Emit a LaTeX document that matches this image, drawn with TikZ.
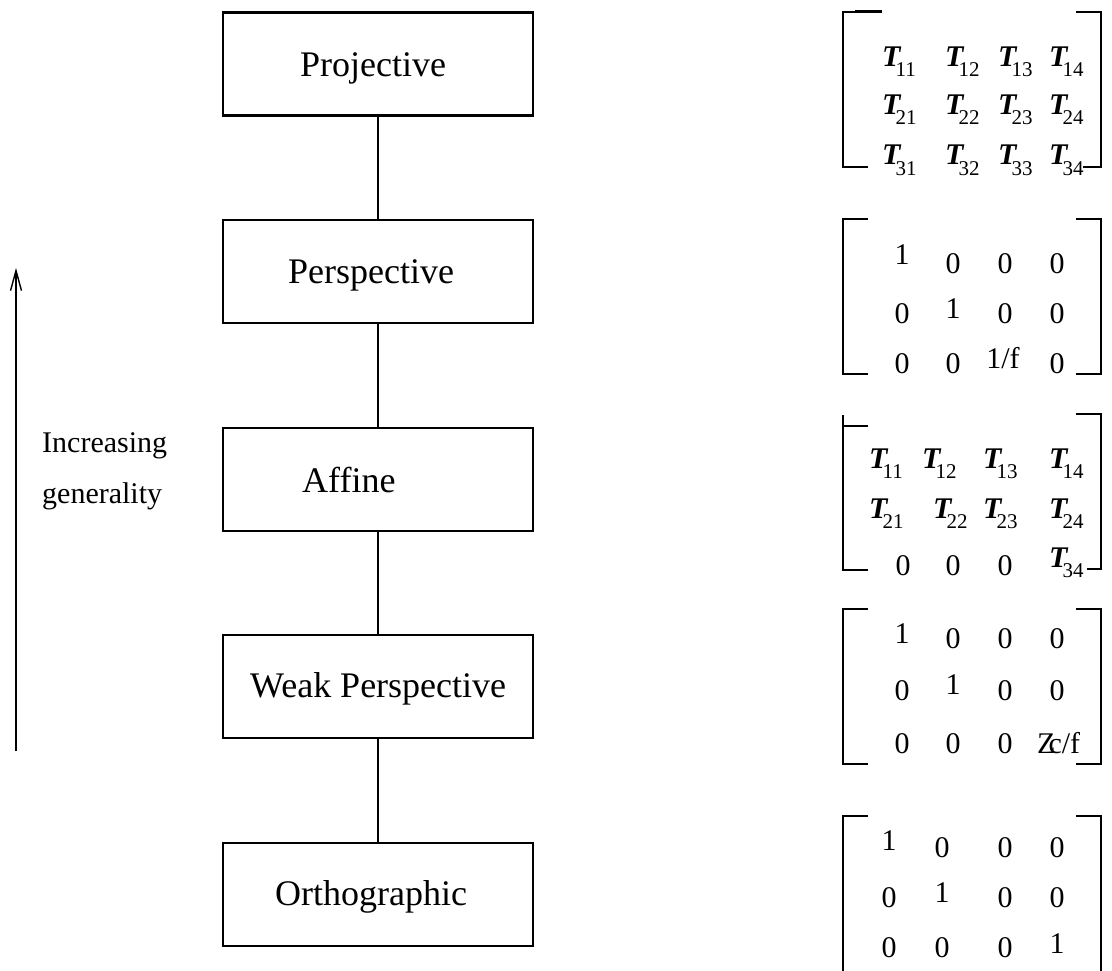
\documentclass[tikz,border=0pt]{standalone}
\usepackage{fontspec}
\setmainfont{Liberation Serif}
\usetikzlibrary{arrows.meta}
\newcommand{\Tm}[1]{{\bfseries\itshape T}\kern-5pt\smash{\raisebox{-10pt}{\fontsize{21}{21}\selectfont #1}}}
\begin{document}
\begin{tikzpicture}[x=1pt,y=-1pt,
  stagebox/.style={draw, line width=2.7pt, minimum width=310pt, minimum height=103pt, inner sep=0pt},
  lbl/.style={anchor=base west, inner sep=0pt, font=\fontsize{36}{40}\selectfont},
  side/.style={anchor=base west, inner sep=0pt, font=\fontsize{30}{34}\selectfont},
  ent/.style={anchor=base, inner sep=0pt, font=\fontsize{30}{34}\selectfont},
  tent/.style={anchor=base west, inner sep=0pt, font=\fontsize{30}{34}\selectfont},
  brk/.style={line width=1.8pt},
  conn/.style={line width=2.3pt}]
\useasboundingbox (0,0) rectangle (1112,971);
% boxes
\node[stagebox] (b1) at (378,64) {};
\node[stagebox] (b2) at (378,271.5) {};
\node[stagebox] (b3) at (378,479.5) {};
\node[stagebox] (b4) at (378,686.5) {};
\node[stagebox] (b5) at (378,894.5) {};
\node[lbl] (t1) at (300,77) {Projective};
\node[lbl] (t2) at (288,283) {Perspective};
\node[lbl] (t3) at (302,492) {Affine};
\node[lbl] (t4) at (250,697) {Weak Perspective};
\node[lbl] (t5) at (275,905) {Orthographic};
\draw[conn] (b1.south) -- (b2.north);
\draw[conn] (b2.south) -- (b3.north);
\draw[conn] (b3.south) -- (b4.north);
\draw[conn] (b4.south) -- (b5.north);
% arrow
\coordinate (ab) at (16,751);
\coordinate (at) at (16,268);
\draw[line width=1.4pt, -{Straight Barb[length=20pt,width=11pt,line width=1.4pt]}] (ab) -- (at);
\node[side] (inc) at (42,452) {Increasing};
\node[side] (gen) at (42,503) {generality};
% matrix 1
\draw[brk] (882,12) -- (843,12) -- (843,167) -- (868,167);
\draw[line width=3pt] (855,12) -- (882,12);
\draw[brk] (1076,12) -- (1101,12) -- (1101,167) -- (1083,167);
\node[tent] (a11) at (882,67) {\Tm{11}};
\node[tent] (a12) at (945,67) {\Tm{12}};
\node[tent] (a13) at (998,67) {\Tm{13}};
\node[tent] (a14) at (1049,67) {\Tm{14}};
\node[tent] (a21) at (882,115) {\Tm{21}};
\node[tent] (a22) at (945,115) {\Tm{22}};
\node[tent] (a23) at (998,115) {\Tm{23}};
\node[tent] (a24) at (1049,115) {\Tm{24}};
\node[tent] (a31) at (882,165) {\Tm{31}};
\node[tent] (a32) at (945,165) {\Tm{32}};
\node[tent] (a33) at (998,165) {\Tm{33}};
\node[tent] (a34) at (1049,165) {\Tm{34}};
% matrix 2
\draw[brk] (868,219) -- (843,219) -- (843,374) -- (868,374);
\draw[brk] (1076,219) -- (1101,219) -- (1101,374) -- (1076,374);
\node[ent] (p11) at (902,265) {1};
\node[ent] (p12) at (953,273) {0};
\node[ent] (p13) at (1005,273) {0};
\node[ent] (p14) at (1057,273) {0};
\node[ent] (p21) at (902,323) {0};
\node[ent] (p22) at (953,318) {1};
\node[ent] (p23) at (1005,323) {0};
\node[ent] (p24) at (1057,323) {0};
\node[ent] (p31) at (902,373) {0};
\node[ent] (p32) at (953,373) {0};
\node[ent] (p33) at (1003,368) {1/f};
\node[ent] (p34) at (1057,373) {0};
% matrix 3
\draw[brk] (843,415) -- (843,570) -- (868,570);
\draw[brk] (843,426) -- (868,426);
\draw[brk] (1076,414) -- (1101,414) -- (1101,569) -- (1087,569);
\node[tent] (f11) at (869,468) {\Tm{11}};
\node[tent] (f12) at (922,468) {\Tm{12}};
\node[tent] (f13) at (983,468) {\Tm{13}};
\node[tent] (f14) at (1049,468) {\Tm{14}};
\node[tent] (f21) at (869,518) {\Tm{21}};
\node[tent] (f22) at (933,518) {\Tm{22}};
\node[tent] (f23) at (983,518) {\Tm{23}};
\node[tent] (f24) at (1049,518) {\Tm{24}};
\node[ent] (f31) at (903,575) {0};
\node[ent] (f32) at (953,575) {0};
\node[ent] (f33) at (1005,575) {0};
\node[tent] (f34) at (1049,567) {\Tm{34}};
% matrix 4
\draw[brk] (868,609) -- (843,609) -- (843,764) -- (868,764);
\draw[brk] (1076,609) -- (1101,609) -- (1101,764) -- (1076,764);
\node[ent] (w11) at (902,643) {1};
\node[ent] (w12) at (953,648) {0};
\node[ent] (w13) at (1005,648) {0};
\node[ent] (w14) at (1057,648) {0};
\node[ent] (w21) at (902,700) {0};
\node[ent] (w22) at (953,694) {1};
\node[ent] (w23) at (1005,700) {0};
\node[ent] (w24) at (1057,700) {0};
\node[ent] (w31) at (902,753) {0};
\node[ent] (w32) at (953,753) {0};
\node[ent] (w33) at (1005,753) {0};
\node[tent] (w34) at (1037,753) {Z\kern-7pt c/f};
% matrix 5
\draw[brk] (868,816) -- (843,816) -- (843,971);
\draw[brk] (1076,816) -- (1101,816) -- (1101,971);
\node[ent] (o11) at (889,850) {1};
\node[ent] (o12) at (942,857) {0};
\node[ent] (o13) at (1005,857) {0};
\node[ent] (o14) at (1057,857) {0};
\node[ent] (o21) at (889,907) {0};
\node[ent] (o22) at (942,902) {1};
\node[ent] (o23) at (1005,907) {0};
\node[ent] (o24) at (1057,907) {0};
\node[ent] (o31) at (889,957) {0};
\node[ent] (o32) at (942,957) {0};
\node[ent] (o33) at (1005,957) {0};
\node[ent] (o34) at (1057,953) {1};
\end{tikzpicture}
\end{document}
